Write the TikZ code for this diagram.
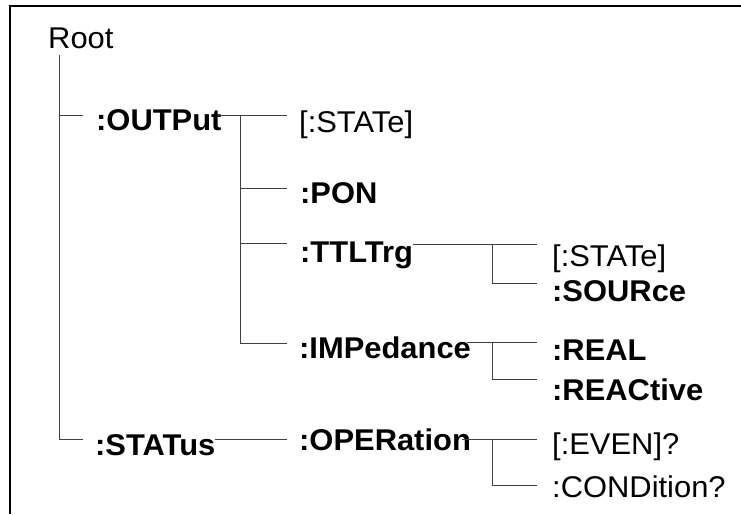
\documentclass[tikz,border=0pt]{standalone}
\usepackage{fontspec}
\setmainfont{Liberation Sans}
\newcommand{\wtxt}[1]{\scalebox{1.03}[1]{#1}}
\begin{document}
\begin{tikzpicture}[x=1pt,y=-1pt,
  lbl/.style={anchor=base west,inner sep=0pt,font=\fontsize{30}{32}\selectfont},
  blbl/.style={anchor=base west,inner sep=0pt,font=\fontsize{30}{32}\selectfont\bfseries},
  tree/.style={draw=black!75,line width=0.9pt},
  frameline/.style={draw=black,line width=1.2pt}]
\useasboundingbox (0,0) rectangle (741,514);
% frame (top and left only)
\coordinate (fR) at (741,6);
\coordinate (fC) at (10,6);
\coordinate (fB) at (10,514);
\draw[frameline] (fR) -- (fC) -- (fB);

% texts
\node[lbl]  (root)   at (48,48)   {\wtxt{Root}};
\node[blbl] (outp)   at (96,130)  {\wtxt{:OUTPut}};
\node[blbl] (stat)   at (95,455)  {\wtxt{:STATus}};
\node[lbl]  (state1) at (299,132) {\wtxt{[:STATe]}};
\node[blbl] (pon)    at (300,203) {\wtxt{:PON}};
\node[blbl] (ttl)    at (300,262) {\wtxt{:TTLTrg}};
\node[blbl] (imp)    at (299,358) {\wtxt{:IMPedance}};
\node[blbl] (oper)   at (299,450) {\wtxt{:OPERation}};
\node[lbl]  (state2) at (552,266) {\wtxt{[:STATe]}};
\node[blbl] (src)    at (552,301) {\wtxt{:SOURce}};
\node[blbl] (real)   at (552,360) {\wtxt{:REAL}};
\node[blbl] (reac)   at (552,400) {\wtxt{:REACtive}};
\node[lbl]  (even)   at (552,454) {\wtxt{[:EVEN]?}};
\node[lbl]  (cond)   at (552,497) {\wtxt{:CONDition?}};

% root trunk
\coordinate (rTop)  at (59.5,55);
\coordinate (rOut)  at (83,115);
\coordinate (rStat) at (83,439);
\draw[tree] (rTop) |- (rStat);
\draw[tree] (rTop |- rOut) -- (rOut);

% :OUTPut subtree
\coordinate (oStart) at (217,115);
\coordinate (oTrunk) at (240,115);
\coordinate (oState) at (287,115);
\coordinate (oPon)   at (287,188);
\coordinate (oTtl)   at (287,243.5);
\coordinate (oImp)   at (287,343);
\draw[tree] (oStart) -- (oState);
\draw[tree] (oTrunk) |- (oImp);
\draw[tree] (oTrunk |- oPon) -- (oPon);
\draw[tree] (oTrunk |- oTtl) -- (oTtl);

% :TTLTrg subtree
\coordinate (tStart) at (413,244);
\coordinate (tTrunk) at (492,244);
\coordinate (tState) at (537,244);
\coordinate (tSrc)   at (537,283);
\draw[tree] (tStart) -- (tState);
\draw[tree] (tTrunk) |- (tSrc);

% :IMPedance subtree
\coordinate (iStart) at (467,342);
\coordinate (iTrunk) at (492,342);
\coordinate (iReal)  at (537,342);
\coordinate (iReac)  at (537,379);
\draw[tree] (iStart) -- (iReal);
\draw[tree] (iTrunk) |- (iReac);

% :STATus subtree
\coordinate (sStart) at (215,439);
\coordinate (sOper)  at (287,439);
\draw[tree] (sStart) -- (sOper);

% :OPERation subtree
\coordinate (pStart) at (462,439);
\coordinate (pTrunk) at (492,439);
\coordinate (pEven)  at (537,439);
\coordinate (pCond)  at (537,485);
\draw[tree] (pStart) -- (pEven);
\draw[tree] (pTrunk) |- (pCond);
\end{tikzpicture}
\end{document}
